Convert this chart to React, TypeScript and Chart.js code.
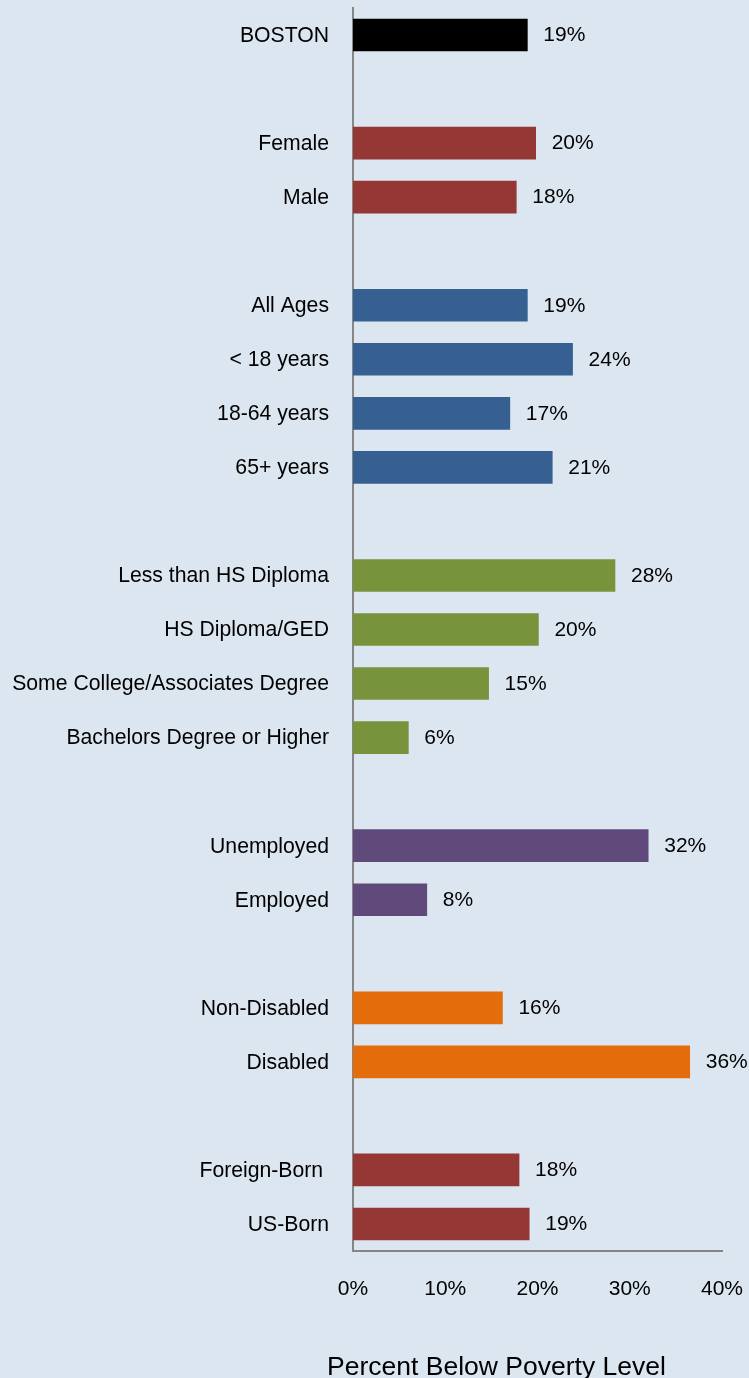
import { useEffect, useRef } from "react";
import { Chart, registerables } from "chart.js";

Chart.register(...registerables);

const categories = [
  "BOSTON",
  "",
  "Female",
  "Male",
  "",
  "All Ages",
  "< 18 years",
  "18-64 years",
  "65+ years",
  "",
  "Less than HS Diploma",
  "HS Diploma/GED",
  "Some College/Associates Degree",
  "Bachelors Degree or Higher",
  "",
  "Unemployed",
  "Employed",
  "",
  "Non-Disabled",
  "Disabled",
  "",
  "Foreign-Born ",
  "US-Born",
];

const values: (number | null)[] = [
  18.9, null, 19.8, 17.7, null, 18.9, 23.8, 17.0, 21.6, null, 28.4, 20.1, 14.7, 6.0,
  null, 32.0, 8.0, null, 16.2, 36.5, null, 18.0, 19.1,
];

const valueLabels = [
  "19%", "", "20%", "18%", "", "19%", "24%", "17%", "21%", "", "28%", "20%", "15%", "6%",
  "", "32%", "8%", "", "16%", "36%", "", "18%", "19%",
];

const BLACK = "#000000";
const RED = "#953735";
const BLUE = "#366092";
const GREEN = "#77933c";
const PURPLE = "#604a7b";
const ORANGE = "#e46c0a";

const barColors = [
  BLACK, BLACK, RED, RED, RED, BLUE, BLUE, BLUE, BLUE, BLUE, GREEN, GREEN, GREEN, GREEN,
  GREEN, PURPLE, PURPLE, PURPLE, ORANGE, ORANGE, ORANGE, RED, RED,
];

const xMin = 0;
const xMax = 40;
const xStep = 10;
const axisTitle = "Percent Below Poverty Level";

const FONT = "'Liberation Sans', Arial, Helvetica, sans-serif";

const valueLabelPlugin = {
  id: "valueLabels",
  afterDatasetsDraw(chart: any) {
    const ctx = chart.ctx;
    const meta = chart.getDatasetMeta(0);
    ctx.save();
    ctx.font = `21px ${FONT}`;
    ctx.fillStyle = "#000";
    ctx.textAlign = "left";
    ctx.textBaseline = "middle";
    meta.data.forEach((bar: any, i: number) => {
      const t = valueLabels[i];
      if (!t || values[i] == null) return;
      ctx.fillText(t, bar.x + 16, bar.y + 0.5);
    });
    ctx.restore();
  },
};

const titlePlugin = {
  id: "bottomTitle",
  afterDraw(chart: any) {
    const ctx = chart.ctx;
    ctx.save();
    ctx.font = `26.5px ${FONT}`;
    ctx.fillStyle = "#000";
    ctx.textAlign = "center";
    ctx.textBaseline = "alphabetic";
    ctx.fillText(axisTitle, 496.5, 1375);
    ctx.restore();
  },
};

function zeroPadding(scale: any) {
  scale.paddingLeft = 0;
  scale.paddingRight = 0;
  scale.paddingTop = 0;
  scale.paddingBottom = 0;
}

export default function App() {
  const ref = useRef<HTMLCanvasElement | null>(null);

  useEffect(() => {
    document.body.style.margin = "0";
    document.body.style.background = "#dce6f1";
    const canvas = ref.current;
    if (!canvas) return;
    const chart = new Chart(canvas, {
      type: "bar",
      data: {
        labels: categories,
        datasets: [
          {
            data: values,
            backgroundColor: barColors,
            borderWidth: 0,
            barThickness: 32,
          },
        ],
      },
      options: {
        indexAxis: "y",
        responsive: false,
        animation: false,
        layout: { padding: { top: 8, right: 27, left: 0, bottom: 0 } },
        plugins: {
          legend: { display: false },
          tooltip: { enabled: false },
          title: { display: false },
        },
        scales: {
          x: {
            type: "linear",
            min: xMin,
            max: xMax,
            afterFit(scale: any) {
              scale.height = 127;
              zeroPadding(scale);
            },
            grid: { display: false, drawTicks: false },
            border: { display: true, color: "#868686", width: 2 },
            ticks: {
              stepSize: xStep,
              color: "#000",
              font: { family: FONT, size: 21 },
              padding: 26,
              maxRotation: 0,
              callback: (v: any) => `${v}%`,
            },
          },
          y: {
            type: "category",
            afterFit(scale: any) {
              scale.width = 353;
              zeroPadding(scale);
            },
            grid: { display: false, drawTicks: false },
            border: { display: true, color: "#868686", width: 2 },
            ticks: {
              color: "#000",
              font: { family: FONT, size: 21.2 },
              padding: 24,
              labelOffset: 1,
              autoSkip: false,
            },
          },
        },
      },
      plugins: [valueLabelPlugin, titlePlugin],
    });
    return () => chart.destroy();
  }, []);

  return (
    <div
      style={{
        position: "absolute",
        left: 0,
        top: 0,
        width: 749,
        height: 1378,
        background: "#dce6f1",
      }}
    >
      <canvas ref={ref} width={749} height={1378} style={{ display: "block" }} />
    </div>
  );
}
